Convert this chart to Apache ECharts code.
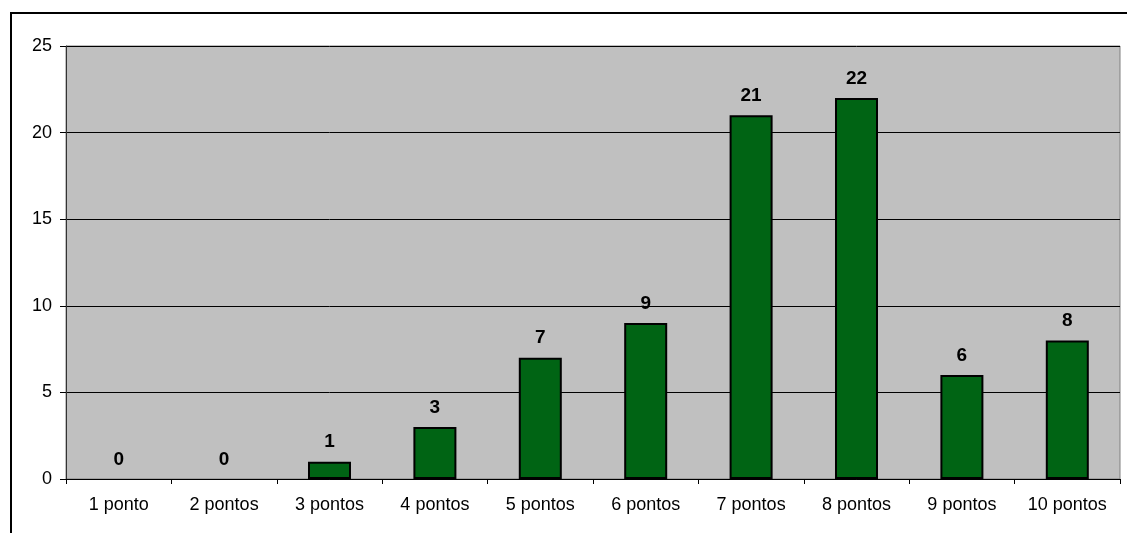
<!DOCTYPE html>
<html><head><meta charset="utf-8">
<script src="https://cdn.jsdelivr.net/npm/echarts@6/dist/echarts.min.js"></script>
<style>
html,body{margin:0;padding:0;background:#fff;}
#frame{position:absolute;left:10px;top:12px;width:1130px;height:540px;border:2px solid #000;box-sizing:border-box;}
#c{position:absolute;left:0;top:0;width:1127px;height:533px;}
</style></head><body>
<div id="frame"></div>
<div id="c"></div>
<script>
const categories = ['1 ponto','2 pontos','3 pontos','4 pontos','5 pontos','6 pontos','7 pontos','8 pontos','9 pontos','10 pontos'];
const values = [0,0,1,3,7,9,21,22,6,8];
const yTicks = {min:0,max:25,interval:5};

const seriesData = values.map(v => v === 0 ? {value:v, itemStyle:{borderWidth:0}} : v);

const chart = echarts.init(document.getElementById('c'));
chart.setOption({
  animation:false,
  grid:{left:66,top:46,right:7,bottom:54,show:true,backgroundColor:'#C0C0C0',borderColor:'#808080',borderWidth:1},
  xAxis:{type:'category',data:categories,
    axisLine:{lineStyle:{color:'#000',width:1}},
    axisTick:{show:true,alignWithLabel:false,length:5,lineStyle:{color:'#000'}},
    axisLabel:{color:'#000',fontFamily:'Liberation Sans, Arial',fontSize:18,margin:17}},
  yAxis:{type:'value',min:yTicks.min,max:yTicks.max,interval:yTicks.interval,
    axisLine:{show:true,lineStyle:{color:'#333',width:1}},
    axisTick:{show:true,length:6,lineStyle:{color:'#000'}},
    splitLine:{show:true,lineStyle:{color:'#000',width:1}},
    axisLabel:{color:'#000',fontFamily:'Liberation Sans, Arial',fontSize:18,margin:14}},
  series:[{type:'bar',data:seriesData,barWidth:'40.8%',
    itemStyle:{color:'#006414',borderColor:'#000',borderWidth:2},
    label:{show:true,position:'top',distance:10,color:'#000',fontWeight:'bold',fontSize:19,fontFamily:'Liberation Sans, Arial'}}]
});
</script></body></html>
